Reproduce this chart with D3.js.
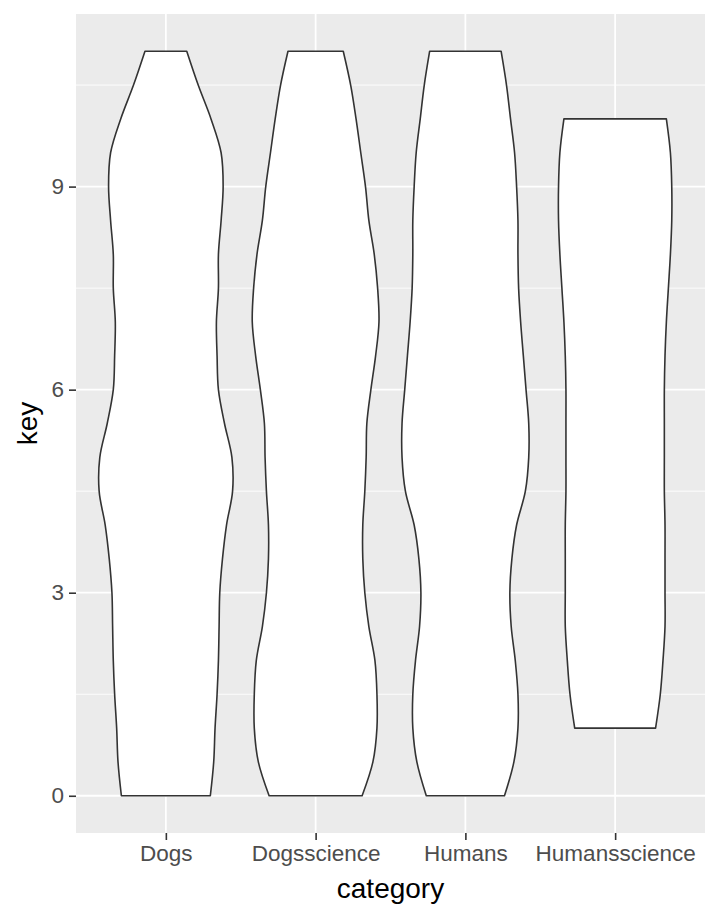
<!DOCTYPE html>
<html>
<head>
<meta charset="utf-8">
<script src="https://cdn.jsdelivr.net/npm/d3@7"></script>
<style>
  html, body { margin: 0; padding: 0; background: #ffffff; }
  svg { display: block; }
  text { font-family: "Liberation Sans", Arial, sans-serif; }
</style>
</head>
<body>
<svg id="chart" width="720" height="921"></svg>
<script>
// ---- data ----
const categories = ["Dogs", "Dogsscience", "Humans", "Humansscience"];
// key positions where the violin widths were read
const keys = [0, 0.5, 1, 1.5, 2, 2.5, 3, 3.5, 4, 4.5, 5, 5.5, 6, 6.5, 7, 7.5, 8, 8.5, 9, 9.5, 10, 10.5, 11];
// scaled violin widths (1 = widest violin) at each key; null = outside data range
const dogsWidth = [0.66, 0.71, 0.73, 0.76, 0.78, 0.79, 0.80, 0.84, 0.90, 0.99, 0.98, 0.87, 0.78, 0.76, 0.75, 0.78, 0.78, 0.82, 0.85, 0.82, 0.67, 0.48, 0.31];
const dogsscienceWidth = [0.69, 0.85, 0.91, 0.91, 0.88, 0.79, 0.73, 0.70, 0.70, 0.73, 0.75, 0.76, 0.82, 0.89, 0.94, 0.92, 0.87, 0.79, 0.74, 0.67, 0.60, 0.52, 0.41];
const humansWidth = [0.58, 0.72, 0.78, 0.78, 0.74, 0.68, 0.66, 0.69, 0.76, 0.89, 0.94, 0.94, 0.90, 0.86, 0.82, 0.79, 0.78, 0.78, 0.76, 0.73, 0.67, 0.61, 0.53];
const humansscienceWidth = [null, null, 0.60, 0.67, 0.71, 0.74, 0.74, 0.74, 0.74, 0.73, 0.73, 0.73, 0.73, 0.74, 0.76, 0.79, 0.82, 0.84, 0.84, 0.82, 0.76, null, null];
const yTicks = [0, 3, 6, 9];
const yMinor = [1.5, 4.5, 7.5, 10.5];
const yDomain = [-0.55, 11.55];
const xTitle = "category";
const yTitle = "key";

// ---- layout ----
const panel = { left: 76, right: 705, top: 14, bottom: 833 };
const svg = d3.select("#chart");

const x = d3.scalePoint().domain(categories).range([panel.left, panel.right]).padding(0.6);
const y = d3.scaleLinear().domain(yDomain).range([panel.bottom, panel.top]);
const maxHalf = 0.45 * x.step();

// panel background
svg.append("rect")
  .attr("x", panel.left).attr("y", panel.top)
  .attr("width", panel.right - panel.left).attr("height", panel.bottom - panel.top)
  .attr("fill", "#EBEBEB");

// minor grid
svg.append("g").selectAll("line").data(yMinor).join("line")
  .attr("x1", panel.left).attr("x2", panel.right)
  .attr("y1", d => y(d)).attr("y2", d => y(d))
  .attr("stroke", "#ffffff").attr("stroke-width", 0.9);

// major grid
svg.append("g").selectAll("line").data(yTicks).join("line")
  .attr("x1", panel.left).attr("x2", panel.right)
  .attr("y1", d => y(d)).attr("y2", d => y(d))
  .attr("stroke", "#ffffff").attr("stroke-width", 1.8);
svg.append("g").selectAll("line").data(categories).join("line")
  .attr("x1", d => x(d)).attr("x2", d => x(d))
  .attr("y1", panel.top).attr("y2", panel.bottom)
  .attr("stroke", "#ffffff").attr("stroke-width", 1.8);

// violins
const series = [dogsWidth, dogsscienceWidth, humansWidth, humansscienceWidth];
categories.forEach((cat, i) => {
  const cx = x(cat);
  const pts = keys.map((k, j) => ({ k: k, w: series[i][j] })).filter(d => d.w !== null);
  const area = d3.area()
    .y(d => y(d.k))
    .x0(d => cx - d.w * maxHalf)
    .x1(d => cx + d.w * maxHalf)
    .curve(d3.curveCatmullRom.alpha(0.5));
  svg.append("path")
    .datum(pts)
    .attr("d", area)
    .attr("fill", "#ffffff")
    .attr("stroke", "#333333")
    .attr("stroke-width", 1.6)
    .attr("stroke-linejoin", "round");
});

// axes
const yAxis = d3.axisLeft(y).tickValues(yTicks).tickSize(7).tickPadding(5).tickFormat(d3.format("d"));
const gy = svg.append("g").attr("transform", `translate(${panel.left},0)`).call(yAxis);
gy.select(".domain").remove();
gy.selectAll(".tick line").attr("stroke", "#333333").attr("stroke-width", 1.6);
gy.selectAll(".tick text").attr("fill", "#4D4D4D").attr("font-size", 22.5)
  .attr("font-family", "'Liberation Sans', Arial, sans-serif");

const xAxis = d3.axisBottom(x).tickSize(7).tickPadding(5);
const gx = svg.append("g").attr("transform", `translate(0,${panel.bottom})`).call(xAxis);
gx.select(".domain").remove();
gx.selectAll(".tick line").attr("stroke", "#333333").attr("stroke-width", 1.6);
gx.selectAll(".tick text").attr("fill", "#4D4D4D").attr("font-size", 22.5)
  .attr("font-family", "'Liberation Sans', Arial, sans-serif");

// titles
svg.append("text")
  .attr("x", (panel.left + panel.right) / 2).attr("y", 898)
  .attr("text-anchor", "middle").attr("font-size", 28).attr("fill", "#000000")
  .text(xTitle);
svg.append("text")
  .attr("transform", `translate(37,${(panel.top + panel.bottom) / 2}) rotate(-90)`)
  .attr("text-anchor", "middle").attr("font-size", 28).attr("fill", "#000000")
  .text(yTitle);
</script>
</body>
</html>
